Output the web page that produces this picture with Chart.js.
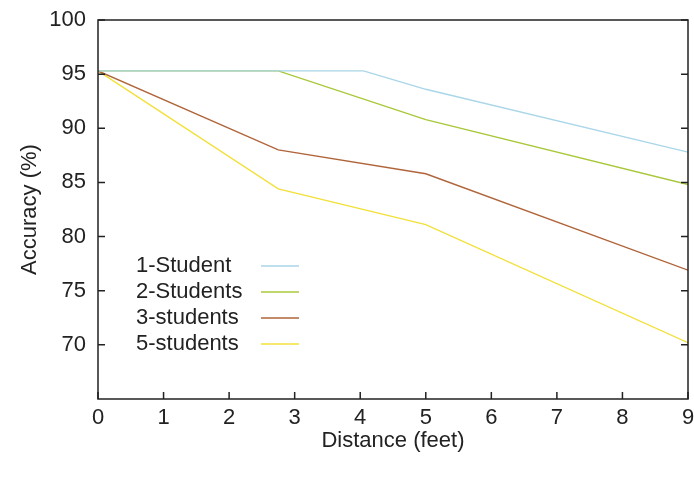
<!DOCTYPE html>
<html>
<head>
<meta charset="utf-8">
<script src="https://cdn.jsdelivr.net/npm/chart.js@4"></script>
<style>
  html, body { margin: 0; padding: 0; background: #fff; }
  #wrap { width: 694px; height: 484px; }
</style>
</head>
<body>
<div id="wrap"><canvas id="accChart"></canvas></div>
<script>
// data
const seriesNames = ['1-Student', '2-Students', '3-students', '5-students'];
const seriesColors = ['#a9d6e8', '#a8c83a', '#b0643a', '#f2e03a'];

const oneStudentX = [0, 4.05, 5, 9];
const oneStudentY = [95.3, 95.3, 93.6, 87.8];
const twoStudentsX = [0, 2.75, 5, 9];
const twoStudentsY = [95.3, 95.3, 90.8, 84.8];
const threeStudentsX = [0, 2.75, 5, 9];
const threeStudentsY = [95.3, 88.0, 85.8, 76.9];
const fiveStudentsX = [0, 2.75, 5, 9];
const fiveStudentsY = [95.3, 84.4, 81.1, 70.2];

const xTicks = [0, 1, 2, 3, 4, 5, 6, 7, 8, 9];
const yTicks = [70, 75, 80, 85, 90, 95, 100];

const allX = [oneStudentX, twoStudentsX, threeStudentsX, fiveStudentsX];
const allY = [oneStudentY, twoStudentsY, threeStudentsY, fiveStudentsY];

function toPoints(xs, ys) {
    return xs.map((x, i) => ({ x: x, y: ys[i] }));
}

const datasets = seriesNames.map((name, i) => ({
    label: name,
    data: toPoints(allX[i], allY[i]),
    borderColor: seriesColors[i],
    borderWidth: 1.4,
    pointRadius: 0,
    tension: 0,
    fill: false
}));

const fontFamily = '"Liberation Sans", Arial, sans-serif';
const fontSize = 22;

// box around the plot + inward tick marks
const frameAndTicks = {
    id: 'frameAndTicks',
    afterDatasetsDraw(chart) {
        const ctx = chart.ctx;
        const a = chart.chartArea;
        const xs = chart.scales.x;
        const ys = chart.scales.y;
        ctx.save();
        ctx.strokeStyle = '#222';
        ctx.lineWidth = 1.5;
        ctx.strokeRect(a.left, a.top, a.right - a.left, a.bottom - a.top);
        ctx.beginPath();
        xTicks.forEach(v => {
            const px = xs.getPixelForValue(v);
            ctx.moveTo(px, a.bottom);
            ctx.lineTo(px, a.bottom - 7);
        });
        yTicks.forEach(v => {
            const py = ys.getPixelForValue(v);
            ctx.moveTo(a.left, py);
            ctx.lineTo(a.left + 7, py);
            ctx.moveTo(a.right, py);
            ctx.lineTo(a.right - 7, py);
        });
        ctx.stroke();
        ctx.restore();
    }
};

// legend inside the plot, text first then line sample
const insideLegend = {
    id: 'insideLegend',
    afterDraw(chart) {
        const ctx = chart.ctx;
        const a = chart.chartArea;
        const textX = a.left + 38;
        const lineX1 = a.left + 163;
        const lineX2 = a.left + 201;
        let rowY = a.top + 246;
        ctx.save();
        ctx.font = fontSize + 'px ' + fontFamily;
        ctx.fillStyle = '#222';
        ctx.textBaseline = 'middle';
        chart.data.datasets.forEach(ds => {
            ctx.fillText(ds.label, textX, rowY);
            ctx.strokeStyle = ds.borderColor;
            ctx.lineWidth = 1.4;
            ctx.beginPath();
            ctx.moveTo(lineX1, rowY);
            ctx.lineTo(lineX2, rowY);
            ctx.stroke();
            rowY += 26;
        });
        ctx.restore();
    }
};

new Chart(document.getElementById('accChart'), {
    type: 'line',
    data: { datasets: datasets },
    options: {
        responsive: true,
        maintainAspectRatio: false,
        animation: false,
        layout: { padding: { top: 20, right: 6, left: 0, bottom: 0 } },
        plugins: {
            legend: { display: false },
            tooltip: { enabled: false }
        },
        scales: {
            x: {
                type: 'linear',
                min: 0,
                max: 9,
                afterFit(scale) {
                    scale.height = 85;
                    scale.paddingLeft = 0;
                    scale.paddingRight = 0;
                },
                afterBuildTicks(scale) { scale.ticks = xTicks.map(v => ({ value: v })); },
                ticks: {
                    color: '#222',
                    padding: 6,
                    maxRotation: 0,
                    font: { family: fontFamily, size: fontSize }
                },
                grid: { display: false, drawTicks: false },
                border: { display: false },
                title: {
                    display: true,
                    text: 'Distance (feet)',
                    color: '#222',
                    font: { family: fontFamily, size: fontSize },
                    padding: { top: 0, bottom: 30 }
                }
            },
            y: {
                min: 65,
                max: 100,
                afterFit(scale) {
                    scale.width = 98;
                    scale.paddingTop = 0;
                    scale.paddingBottom = 0;
                },
                afterBuildTicks(scale) { scale.ticks = yTicks.map(v => ({ value: v })); },
                ticks: {
                    color: '#222',
                    padding: 12,
                    font: { family: fontFamily, size: fontSize }
                },
                grid: { display: false, drawTicks: false },
                border: { display: false },
                title: {
                    display: true,
                    text: 'Accuracy (%)',
                    color: '#222',
                    font: { family: fontFamily, size: fontSize },
                    padding: { top: 17, bottom: 0 }
                }
            }
        }
    },
    plugins: [frameAndTicks, insideLegend]
});
</script>
</body>
</html>
